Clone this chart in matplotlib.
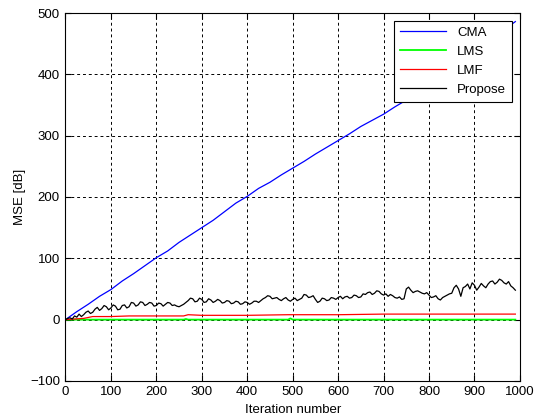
import matplotlib
matplotlib.use('Agg')
import matplotlib.pyplot as plt

# values
cma_x = [0, 25, 50, 75, 100, 125, 150, 175, 200, 225, 250, 275, 300, 325, 350, 375,
         400, 425, 450, 475, 500, 525, 550, 575, 600, 625, 650, 675, 700, 725, 750,
         775, 800, 825, 850, 875, 900, 925, 950, 975, 990]
cma_y = [0, 13, 25, 38, 49, 63, 75, 88, 101, 112, 126, 138, 150, 162, 176, 190,
         201, 214, 224, 236, 247, 258, 270, 281, 292, 303, 315, 325, 335, 347, 358,
         372, 385, 398, 412, 425, 438, 452, 466, 478, 486]

lms_x = [0, 260, 265, 270, 490, 495, 500, 990]
lms_y = [0, 0, 1, 0, 0, 2, 0, 0]

lmf_x = [0, 20, 40, 60, 100, 140, 200, 260, 270, 300, 400, 490, 500, 600, 700, 800, 900, 990]
lmf_y = [0, 1, 2, 5, 5, 6, 6, 6, 8, 7, 7, 8, 8, 8, 9, 9, 9, 9]

prop_x = list(range(0, 995, 5))
prop_y = [0, 2, 3, 1, 6, 4, 9, 5, 8, 12, 14, 10, 12, 17, 20, 15, 18, 23, 21, 16,
          19, 24, 22, 16, 17, 23, 24, 19, 21, 28, 27, 22, 24, 29, 28, 23, 25, 28, 27, 22,
          23, 27, 26, 22, 25, 28, 27, 23, 24, 22, 21, 23, 25, 28, 31, 35, 34, 29, 30, 35,
          33, 28, 29, 34, 32, 28, 30, 33, 31, 27, 28, 31, 30, 26, 27, 30, 29, 25, 26, 29,
          28, 25, 27, 30, 30, 28, 31, 34, 36, 39, 38, 34, 35, 36, 33, 31, 34, 36, 32, 30,
          33, 35, 31, 33, 35, 41, 40, 36, 37, 39, 33, 28, 30, 35, 34, 31, 32, 36, 35, 33,
          36, 38, 34, 37, 38, 35, 36, 40, 39, 36, 37, 42, 41, 44, 45, 41, 43, 47, 46, 42,
          40, 42, 38, 41, 39, 36, 35, 37, 33, 34, 50, 53, 48, 44, 46, 47, 45, 43, 42, 44,
          40, 36, 37, 39, 34, 32, 36, 38, 40, 42, 43, 52, 56, 50, 38, 52, 54, 58, 50, 60,
          56, 48, 53, 59, 55, 52, 58, 62, 63, 58, 61, 66, 64, 60, 58, 62, 55, 52, 48]

x_ticks = [0, 100, 200, 300, 400, 500, 600, 700, 800, 900, 1000]
y_ticks = [-100, 0, 100, 200, 300, 400, 500]

plt.rcParams['font.family'] = ['Liberation Sans', 'DejaVu Sans']

fig = plt.figure(figsize=(5.41, 4.2), dpi=100)
ax = fig.add_axes([0.121, 0.093, 0.840, 0.876])

ax.plot(cma_x, cma_y, color='#0000ff', lw=0.9, label='CMA')
ax.plot(lms_x, lms_y, color='#00ff00', lw=1.3, label='LMS')
ax.plot(lmf_x, lmf_y, color='#ff0000', lw=0.9, label='LMF')
ax.plot(prop_x, prop_y, color='black', lw=0.9, label='Propose')

ax.set_xlim(0, 1000)
ax.set_ylim(-100, 500)
ax.set_xticks(x_ticks)
ax.set_yticks(y_ticks)
ax.tick_params(direction='in', labelsize=9.5, length=4, top=True, right=True, pad=4)
ax.grid(True, color='black', linestyle=(0, (3, 3)), linewidth=0.7)
for s in ax.spines.values():
    s.set_linewidth(0.8)

ax.set_xlabel('Iteration number', fontsize=9.5, labelpad=4)
ax.set_ylabel('MSE [dB]', fontsize=9.5, labelpad=3)

leg = ax.legend(loc='upper right', fontsize=9.5, fancybox=False, framealpha=1,
                edgecolor='black', handlelength=3.5, borderaxespad=0.6,
                labelspacing=0.5, borderpad=0.45)
leg.get_frame().set_linewidth(0.8)

fig.savefig('out.png', dpi=100)
